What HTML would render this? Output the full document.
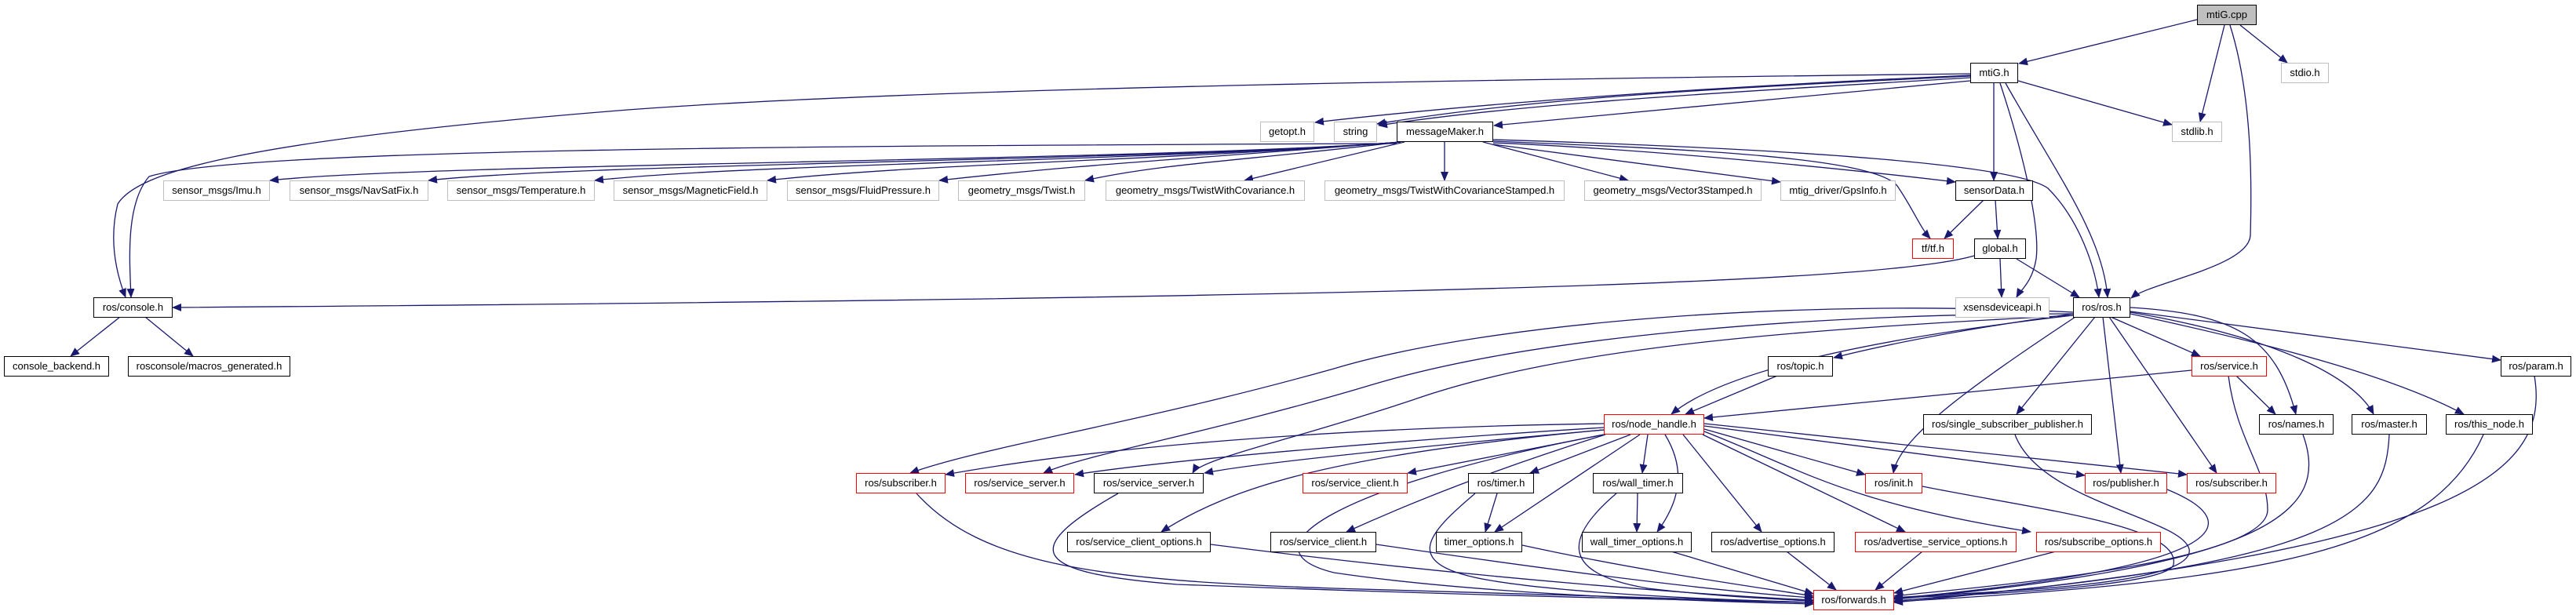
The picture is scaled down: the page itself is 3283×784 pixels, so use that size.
<!DOCTYPE html>
<html><head><meta charset="utf-8"><style>
html,body{margin:0;padding:0;background:#fff;}
#c{position:relative;width:3283px;height:784px;overflow:hidden;background:#fff;}
svg{position:absolute;left:0;top:0;}
.n{position:absolute;box-sizing:border-box;height:26px;border:1px solid #000;background:#fff;font:13px "Liberation Sans",sans-serif;color:#000;text-align:center;line-height:24px;white-space:nowrap;}
.g{border-color:#bfbfbf;}
.r{border-color:#ff0000;}
.cur{background:#bfbfbf;}
</style></head><body><div id="c">
<svg width="3283" height="784" viewBox="0 0 3283 784">
<defs><marker id="a" markerUnits="userSpaceOnUse" markerWidth="12" markerHeight="10" refX="11" refY="5" orient="auto"><path d="M0 0 L12 5 L0 10 z" fill="#191970"/></marker></defs>
<g fill="none" stroke="#191970" stroke-width="1.3" marker-end="url(#a)">
<path d="M2800 25 L2573 81"/>
<path d="M2855 32 L2915 80"/>
<path d="M2835 32 L2804 155"/>
<path d="M2842 32 C2870 120 2870 230 2868 300 C2866 340 2740 360 2716 380"/>
<path d="M2511 96 C2200 110 1900 130 1676 156"/>
<path d="M2511 97 C2200 112 1950 125 1755 158"/>
<path d="M2511 99 C2250 115 1950 130 1757 160"/>
<path d="M2511 103 L1904 160"/>
<path d="M2511 94 C2000 100 1200 110 800 140 C300 180 175 220 150 260 C140 300 145 340 160 379"/>
<path d="M1780 183 C1000 186 300 190 190 225 C160 260 165 330 167 379"/>
<path d="M2572 103 L2768 159"/>
<path d="M2541 106 L2541 230"/>
<path d="M2549 106 C2580 200 2600 290 2595 330 C2590 360 2575 370 2570 379"/>
<path d="M2556 106 C2620 220 2680 300 2686 379"/>
<path d="M1785 181 C1485 205 544 208 344 230"/>
<path d="M1785 181 C1485 205 746 208 546 230"/>
<path d="M1785 181 C1485 205 958 208 758 230"/>
<path d="M1785 181 C1485 205 1178 208 978 230"/>
<path d="M1785 181 C1485 205 1397 208 1197 230"/>
<path d="M1785 181 C1585 205 1483 208 1383 230"/>
<path d="M1790 181 L1586 230"/>
<path d="M1841 181 L1841 230"/>
<path d="M1890 181 L2075 230"/>
<path d="M1903 184 L2269 232"/>
<path d="M1903 182 C2100 190 2350 215 2492 232"/>
<path d="M1903 180 C2150 190 2400 200 2420 240 C2440 270 2447 290 2460 304"/>
<path d="M1903 178 C2300 190 2570 210 2610 240 C2650 280 2670 340 2675 379"/>
<path d="M2528 255 L2478 304"/>
<path d="M2543 255 L2546 304"/>
<path d="M2516 326 C2400 360 1800 380 220 392"/>
<path d="M2549 330 L2551 379"/>
<path d="M2570 330 L2650 379"/>
<path d="M153 404 L90 454"/>
<path d="M185 404 L246 454"/>
<path d="M2642 400 C2500 420 2400 440 2337 456"/>
<path d="M2265 479 L2148 528"/>
<path d="M2642 402 C2400 430 2200 470 2130 528"/>
<path d="M2793 472 L2172 533"/>
<path d="M2690 404 L2804 454"/>
<path d="M2715 397 L3187 459"/>
<path d="M2715 392 C2850 400 2900 430 2926 528"/>
<path d="M2715 398 C2900 430 3000 480 3025 528"/>
<path d="M2715 400 C2900 440 3050 480 3140 528"/>
<path d="M2670 404 L2570 528"/>
<path d="M2645 404 C2500 500 2420 560 2413 603"/>
<path d="M2680 404 L2703 603"/>
<path d="M2688 404 L2825 603"/>
<path d="M2642 398 C2300 380 1900 410 1700 470 C1450 540 1250 570 1160 603"/>
<path d="M2642 400 C2300 400 1950 430 1750 490 C1550 550 1380 580 1330 603"/>
<path d="M2642 402 C2300 420 2000 440 1800 510 C1650 560 1530 585 1520 603"/>
<path d="M2850 479 L2900 528"/>
<path d="M2840 479 C2850 560 2890 600 2890 650 C2890 720 2500 750 2414 760"/>
<path d="M3230 479 C3250 600 3150 700 2414 768"/>
<path d="M2935 554 C2970 650 2900 720 2414 764"/>
<path d="M3045 554 C3040 650 3000 720 2414 766"/>
<path d="M3165 554 C3100 700 2900 740 2414 767"/>
<path d="M2568 554 C2600 640 2780 660 2790 700 C2800 750 2500 755 2414 762"/>
<path d="M2450 620 C2600 650 2780 670 2770 720 C2760 750 2480 760 2414 762"/>
<path d="M2762 624 C2850 660 2880 720 2414 763"/>
<path d="M2277 703 L2340 752"/>
<path d="M2450 703 L2390 752"/>
<path d="M2620 703 L2414 756"/>
<path d="M1940 695 C2100 730 2250 750 2311 760"/>
<path d="M2130 703 L2311 757"/>
<path d="M1754 694 C2000 730 2200 755 2311 762"/>
<path d="M1543 694 C1900 740 2200 760 2311 765"/>
<path d="M1168 629 C1250 720 1400 740 1700 750 C2000 760 2200 765 2311 768"/>
<path d="M1425 629 C1300 700 1310 730 1500 745 C1900 760 2200 766 2311 768"/>
<path d="M1880 629 C1820 680 1780 720 1900 740 C2000 757 2200 765 2311 768"/>
<path d="M2060 629 C2000 680 1980 730 2100 750 C2200 762 2311 766 2311 766"/>
<path d="M2044 554 C1700 620 1580 700 1700 730 C1900 760 2200 767 2311 770"/>
<path d="M1908 629 L1893 678"/>
<path d="M2087 629 L2086 678"/>
<path d="M2044 540 C1700 545 1400 570 1205 605"/>
<path d="M2044 545 C1800 560 1500 585 1370 605"/>
<path d="M2044 548 C1800 570 1600 590 1535 603"/>
<path d="M2044 554 L1794 603"/>
<path d="M2078 554 L1950 603"/>
<path d="M2100 554 L2093 603"/>
<path d="M2044 548 C1700 580 1570 620 1480 678"/>
<path d="M2046 554 C1900 600 1800 640 1716 678"/>
<path d="M2090 554 L1905 678"/>
<path d="M2122 554 C2150 600 2140 640 2112 678"/>
<path d="M2145 554 L2245 678"/>
<path d="M2170 554 L2428 678"/>
<path d="M2172 550 C2300 600 2350 640 2588 678"/>
<path d="M2172 547 L2377 605"/>
<path d="M2172 543 L2657 606"/>
<path d="M2172 540 L2787 605"/>
</g></svg>

<div class="n cur" style="left:2800px;top:6px;width:76px">mtiG.cpp</div>
<div class="n" style="left:2511px;top:80px;width:61px">mtiG.h</div>
<div class="n g" style="left:2907px;top:80px;width:61px">stdio.h</div>
<div class="n g" style="left:2768px;top:155px;width:64px">stdlib.h</div>
<div class="n g" style="left:1606px;top:155px;width:69px">getopt.h</div>
<div class="n g" style="left:1700px;top:155px;width:55px">string</div>
<div class="n" style="left:1780px;top:155px;width:123px">messageMaker.h</div>
<div class="n g" style="left:208px;top:230px;width:136px">sensor_msgs/Imu.h</div>
<div class="n g" style="left:369px;top:230px;width:177px">sensor_msgs/NavSatFix.h</div>
<div class="n g" style="left:570px;top:230px;width:188px">sensor_msgs/Temperature.h</div>
<div class="n g" style="left:782px;top:230px;width:196px">sensor_msgs/MagneticField.h</div>
<div class="n g" style="left:1003px;top:230px;width:194px">sensor_msgs/FluidPressure.h</div>
<div class="n g" style="left:1221px;top:230px;width:162px">geometry_msgs/Twist.h</div>
<div class="n g" style="left:1409px;top:230px;width:254px">geometry_msgs/TwistWithCovariance.h</div>
<div class="n g" style="left:1688px;top:230px;width:306px">geometry_msgs/TwistWithCovarianceStamped.h</div>
<div class="n g" style="left:2019px;top:230px;width:226px">geometry_msgs/Vector3Stamped.h</div>
<div class="n g" style="left:2269px;top:230px;width:147px">mtig_driver/GpsInfo.h</div>
<div class="n" style="left:2492px;top:230px;width:99px">sensorData.h</div>
<div class="n r" style="left:2437px;top:304px;width:53px">tf/tf.h</div>
<div class="n" style="left:2516px;top:304px;width:66px">global.h</div>
<div class="n" style="left:119px;top:379px;width:101px">ros/console.h</div>
<div class="n g" style="left:2492px;top:379px;width:120px">xsensdeviceapi.h</div>
<div class="n" style="left:2642px;top:379px;width:73px">ros/ros.h</div>
<div class="n" style="left:5px;top:454px;width:134px">console_backend.h</div>
<div class="n" style="left:163px;top:454px;width:207px">rosconsole/macros_generated.h</div>
<div class="n" style="left:2253px;top:454px;width:83px">ros/topic.h</div>
<div class="n r" style="left:2793px;top:454px;width:96px">ros/service.h</div>
<div class="n" style="left:3187px;top:454px;width:90px">ros/param.h</div>
<div class="n r" style="left:2044px;top:528px;width:128px">ros/node_handle.h</div>
<div class="n" style="left:2451px;top:528px;width:215px">ros/single_subscriber_publisher.h</div>
<div class="n" style="left:2879px;top:528px;width:95px">ros/names.h</div>
<div class="n" style="left:2997px;top:528px;width:96px">ros/master.h</div>
<div class="n" style="left:3117px;top:528px;width:111px">ros/this_node.h</div>
<div class="n r" style="left:1091px;top:603px;width:114px">ros/subscriber.h</div>
<div class="n r" style="left:1230px;top:603px;width:139px">ros/service_server.h</div>
<div class="n" style="left:1394px;top:603px;width:140px">ros/service_server.h</div>
<div class="n r" style="left:1660px;top:603px;width:134px">ros/service_client.h</div>
<div class="n" style="left:1871px;top:603px;width:84px">ros/timer.h</div>
<div class="n" style="left:2030px;top:603px;width:115px">ros/wall_timer.h</div>
<div class="n r" style="left:2377px;top:603px;width:73px">ros/init.h</div>
<div class="n r" style="left:2657px;top:603px;width:105px">ros/publisher.h</div>
<div class="n r" style="left:2787px;top:603px;width:114px">ros/subscriber.h</div>
<div class="n" style="left:1360px;top:678px;width:183px">ros/service_client_options.h</div>
<div class="n" style="left:1619px;top:678px;width:135px">ros/service_client.h</div>
<div class="n" style="left:1830px;top:678px;width:110px">timer_options.h</div>
<div class="n" style="left:2016px;top:678px;width:140px">wall_timer_options.h</div>
<div class="n" style="left:2181px;top:678px;width:157px">ros/advertise_options.h</div>
<div class="n r" style="left:2364px;top:678px;width:206px">ros/advertise_service_options.h</div>
<div class="n r" style="left:2595px;top:678px;width:159px">ros/subscribe_options.h</div>
<div class="n r" style="left:2311px;top:752px;width:103px">ros/forwards.h</div>
</div></body></html>
